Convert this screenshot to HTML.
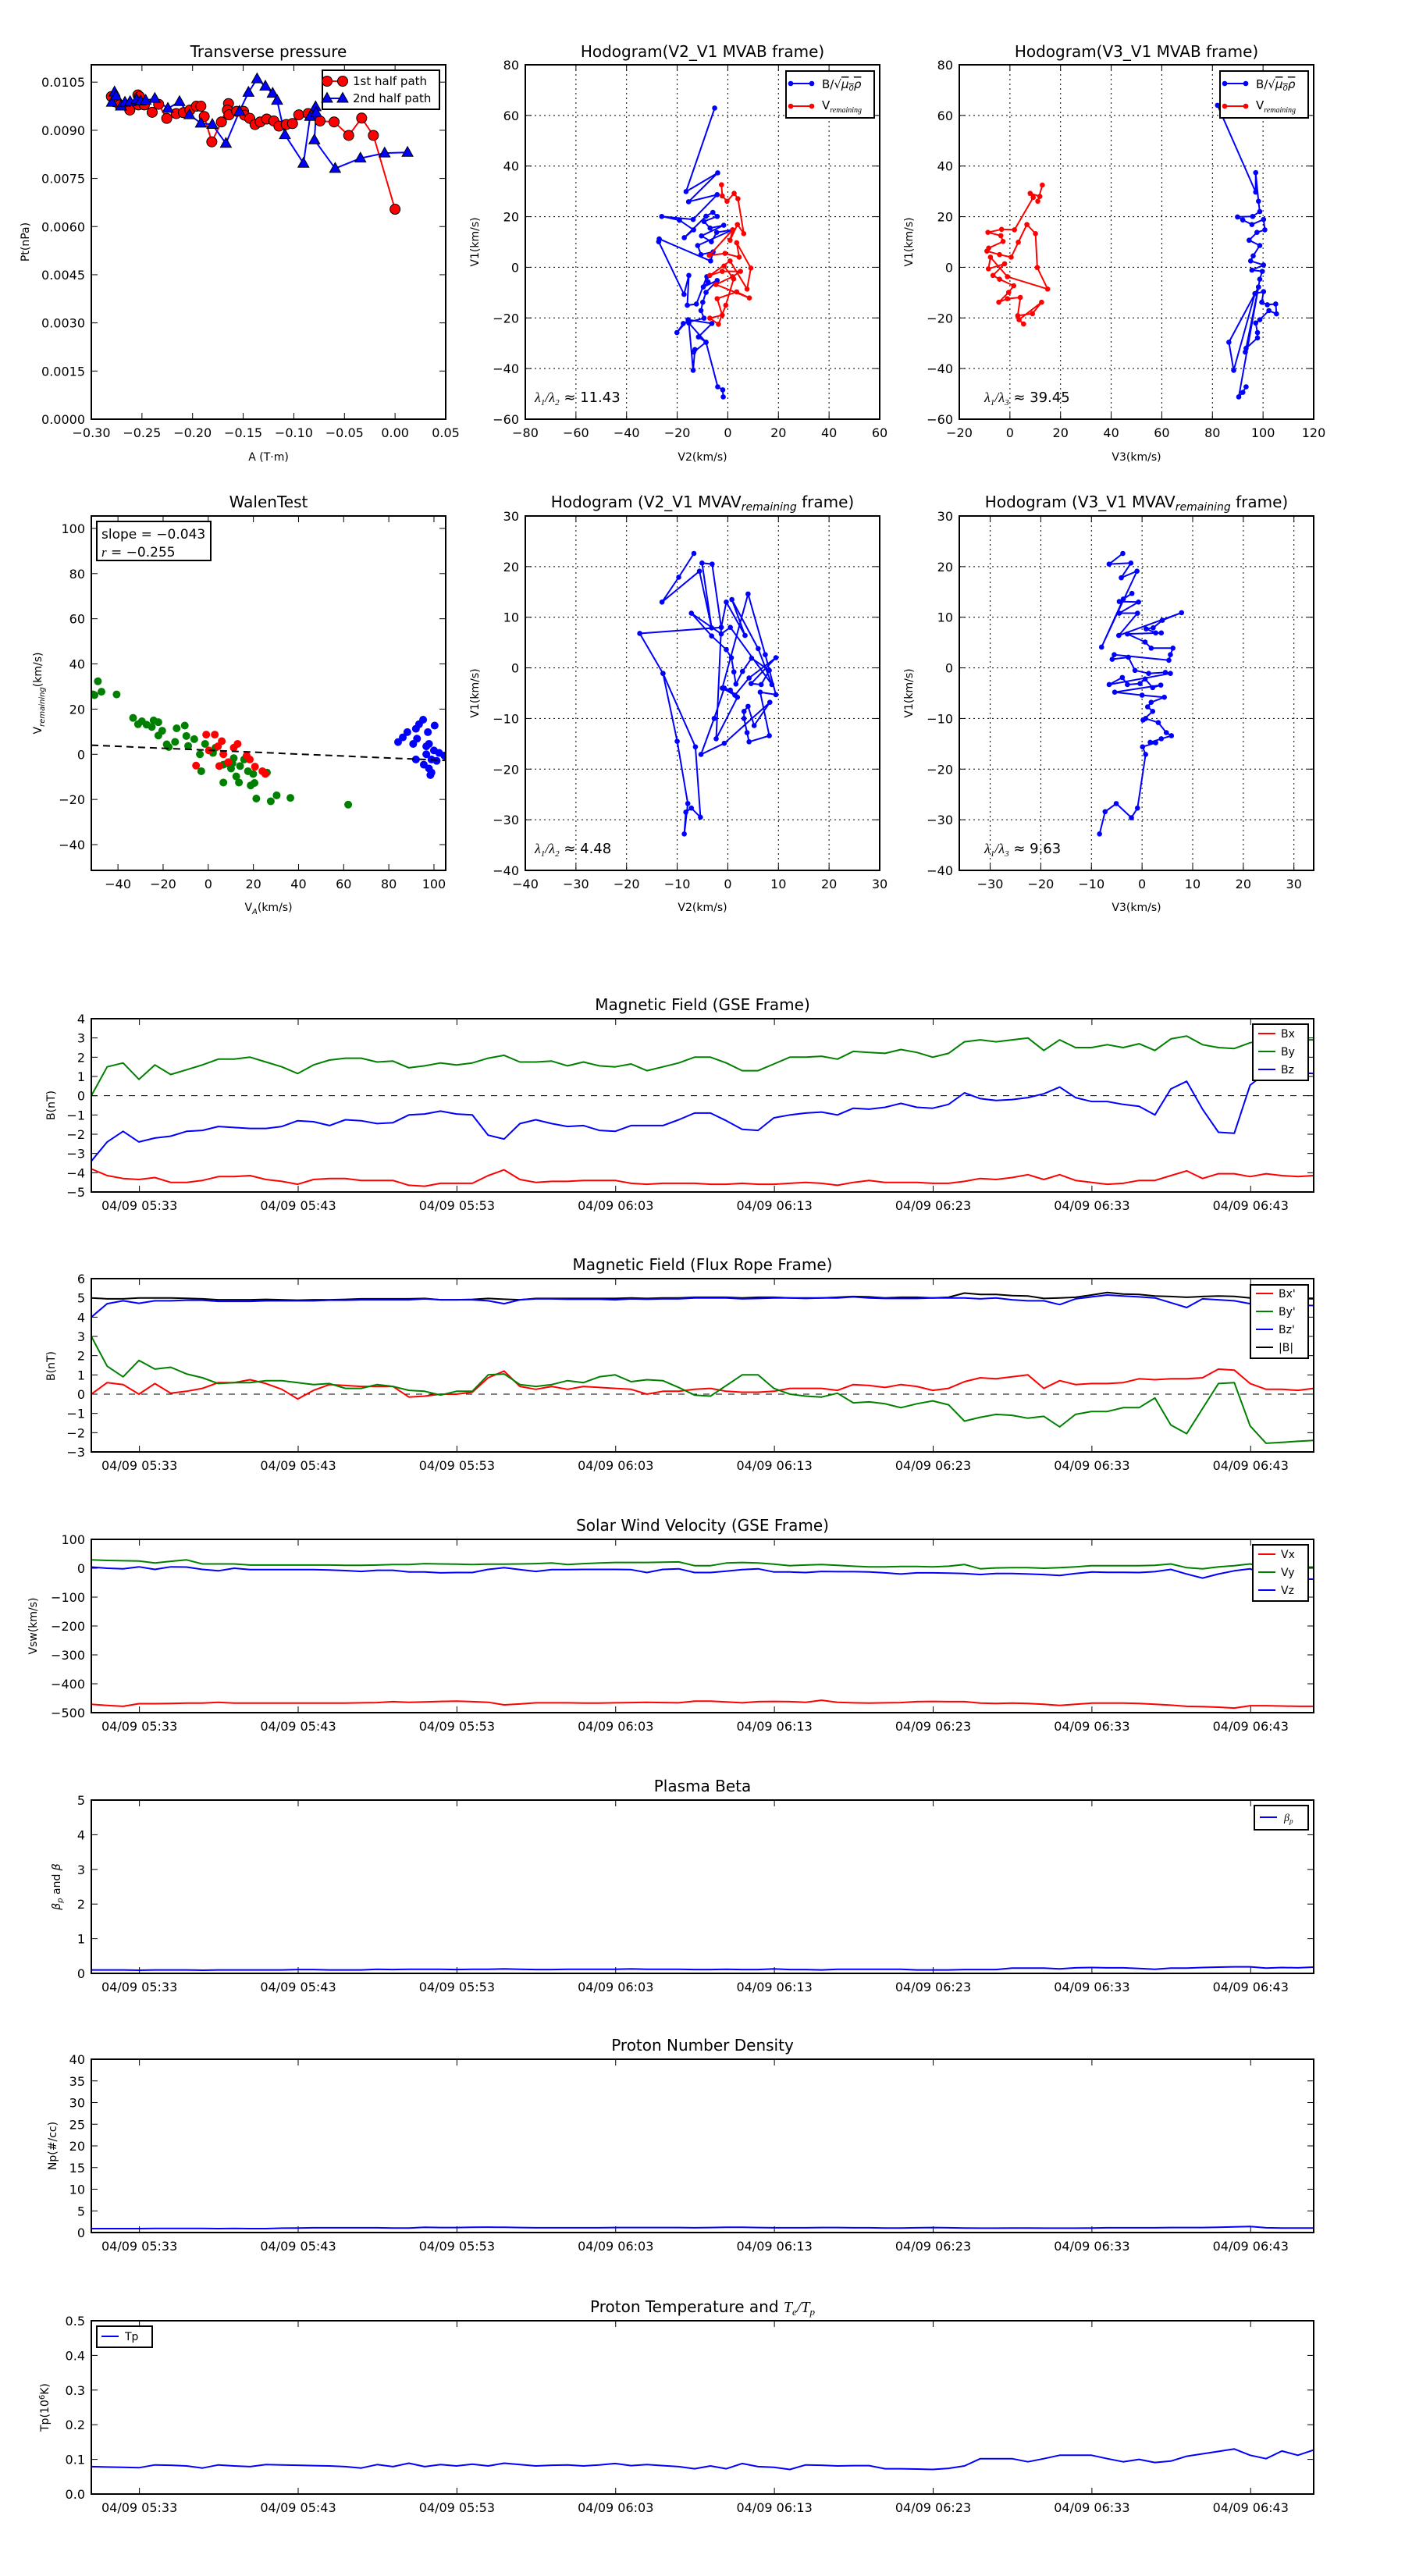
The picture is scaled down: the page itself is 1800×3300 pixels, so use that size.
<!DOCTYPE html>
<html><head><meta charset="utf-8"><title>Flux rope analysis</title>
<style>
html,body{margin:0;padding:0;background:#fff;}
svg{display:block;font-family:"DejaVu Sans","Liberation Sans",sans-serif;}
</style></head>
<body>
<svg id="fig" width="1800" height="3300" viewBox="0 0 1800 3300" xmlns="http://www.w3.org/2000/svg">
<rect x="0" y="0" width="1800" height="3300" fill="#fff"/>
<defs id="defs"></defs>
<g font-size="20" text-anchor="middle" fill="#000">
<text x="344" y="73">Transverse pressure</text>
<text x="900" y="73">Hodogram(V2_V1 MVAB frame)</text>
<text x="1456" y="73">Hodogram(V3_V1 MVAB frame)</text>
<text x="344" y="650">WalenTest</text>
<text x="900" y="650">Hodogram (V2_V1 MVAV<tspan font-style="italic" font-size="14" dy="4">remaining</tspan><tspan dy="-4"> frame)</tspan></text>
<text x="1456" y="650">Hodogram (V3_V1 MVAV<tspan font-style="italic" font-size="14" dy="4">remaining</tspan><tspan dy="-4"> frame)</tspan></text>
<text x="900" y="1294">Magnetic Field (GSE Frame)</text>
<text x="900" y="1627">Magnetic Field (Flux Rope Frame)</text>
<text x="900" y="1961">Solar Wind Velocity (GSE Frame)</text>
<text x="900" y="2295">Plasma Beta</text>
<text x="900" y="2627">Proton Number Density</text>
<text x="900" y="2962">Proton Temperature and <tspan font-style="italic" font-family="Liberation Serif, serif">T<tspan font-size="13" dy="4">e</tspan><tspan dy="-4">/T</tspan><tspan font-size="13" dy="4">p</tspan></tspan></text>
</g>
<g font-size="14" text-anchor="middle" fill="#000">
<text x="344" y="590">A (T·m)</text>
<text x="900" y="590">V2(km/s)</text>
<text x="1456" y="590">V3(km/s)</text>
<text x="344" y="1167">V<tspan font-size="10" dy="4" font-style="italic">A</tspan><tspan dy="-4">(km/s)</tspan></text>
<text x="900" y="1167">V2(km/s)</text>
<text x="1456" y="1167">V3(km/s)</text>
<text transform="translate(37,310) rotate(-90)">Pt(nPa)</text>
<text transform="translate(613,310) rotate(-90)">V1(km/s)</text>
<text transform="translate(1169,310) rotate(-90)">V1(km/s)</text>
<text transform="translate(53,888) rotate(-90)">V<tspan font-size="10" dy="4" font-style="italic">remaining</tspan><tspan dy="-4">(km/s)</tspan></text>
<text transform="translate(613,888) rotate(-90)">V1(km/s)</text>
<text transform="translate(1169,888) rotate(-90)">V1(km/s)</text>
<text transform="translate(70,1416) rotate(-90)">B(nT)</text>
<text transform="translate(70,1750) rotate(-90)">B(nT)</text>
<text transform="translate(47,2083) rotate(-90)">Vsw(km/s)</text>
<text transform="translate(77,2417) rotate(-90)"><tspan font-style="italic">β</tspan><tspan font-size="10" font-style="italic" dy="3">p</tspan><tspan dy="-3"> and </tspan><tspan font-style="italic">β</tspan></text>
<text transform="translate(72,2749) rotate(-90)">Np(#/cc)</text>
<text transform="translate(62,3084) rotate(-90)">Tp(10<tspan font-size="10" dy="-5">6</tspan><tspan dy="5">K)</tspan></text>
</g>
</svg>
<script>
// ---------- DATA ----------
const ptA1 = [-0.2802,-0.2771,-0.272,-0.262,-0.254,-0.2524,-0.2535,-0.2476,-0.2399,-0.2335,-0.2255,-0.2162,-0.209,-0.2026,-0.1962,-0.1918,-0.1885,-0.181,-0.1715,-0.1645,-0.1656,-0.164,-0.1564,-0.1497,-0.1486,-0.1435,-0.1383,-0.1332,-0.1268,-0.1198,-0.1147,-0.1075,-0.1013,-0.0951,-0.0859,-0.0741,-0.0602,-0.0458,-0.033,-0.0214,0.0];
const ptP1 = [0.01005,0.00989,0.00979,0.00963,0.0101,0.01005,0.00979,0.00979,0.00956,0.00981,0.00937,0.00952,0.00955,0.00963,0.00975,0.00975,0.00943,0.00864,0.00926,0.00983,0.00963,0.00948,0.00959,0.00959,0.00947,0.00937,0.00918,0.00926,0.00935,0.00929,0.00913,0.00918,0.00921,0.00948,0.00952,0.00929,0.00926,0.00884,0.00938,0.00884,0.00654];
const ptA2 = [-0.2797,-0.2771,-0.2756,-0.2707,-0.2668,-0.2617,-0.2553,-0.2514,-0.2463,-0.2373,-0.2244,-0.2129,-0.2031,-0.1918,-0.1805,-0.1671,-0.1537,-0.1448,-0.1363,-0.1281,-0.1209,-0.1165,-0.1088,-0.0905,-0.0839,-0.0785,-0.078,-0.0797,-0.0592,-0.0342,-0.0103,0.0123];
const ptP2 = [0.00987,0.01019,0.01007,0.00975,0.00987,0.00989,0.00995,0.00991,0.00993,0.00999,0.00968,0.00989,0.00948,0.00922,0.00918,0.00859,0.00959,0.01018,0.0106,0.01037,0.01015,0.00993,0.00886,0.00797,0.00943,0.00973,0.00955,0.0087,0.00781,0.00813,0.00829,0.00831];

const h1bV2 = [-5.2,-16.5,-4,-15.5,-4.2,-13.7,-26.1,-19.1,-13.5,-17.2,-8.6,-5.9,-4.2,-9.4,-7,-1.6,-10.4,-6.5,-4.4,1.9,-11.9,-10.6,-5.8,-6.8,-27.1,-27.3,-17.3,-15.4,-16,-12.4,-8.3,-7.8,-9.7,-4.2,-8.6,-9.9,-10.6,-9.4,-17.6,-20.1,-15.7,-6.3,-11.6,-8.6,-13.5,-13,-13.7,-15.4,-8.6,-4,-2,-1.8];
const h1bV1 = [62.9,29.9,37.3,25.9,28.7,18.9,20.1,18.6,14.8,11.7,20.2,21.7,20.1,18.1,15.5,16.6,12.4,10.1,13.8,14.8,8.6,5,6.1,2.5,11.2,10.1,-10.7,-3.2,-15,-14.5,-3.7,-5.8,-7.8,-5.2,-9.9,-13.8,-17.1,-20.1,-22.2,-25.8,-20.7,-22.2,-27.5,-29.6,-33.5,-32.5,-40.7,-22,-29.6,-47.2,-48.4,-51.2];
const h1rV2 = [-2.5,-2.2,-0.3,2.5,4,6.3,3.8,0.9,1.9,-7.3,-1.1,4.5,3.5,9.1,7.6,0.9,-7.1,-2.2,5,1.9,-4.7,8.5,3.5,-4.2,-2.2,-7.1,-3.7,-0.8,2.3,-1.5];
const h1rV1 = [32.6,28.2,26.1,29.2,27.1,13.3,16.9,10.7,14.8,4.7,5.5,4,9.7,-0.3,-8.6,2.5,-3.2,-1.6,-1.6,-3.7,-6.8,-12.1,-9.7,-12.4,-18.9,-20.1,-22.5,-15,-4.6,0.5];
const h2rV3 = [12.8,11,11.8,8,9.2,1.8,-3.3,-8.7,-3.6,-2.7,-8.4,-9.1,-4.1,0.5,3.3,6.7,10.1,10.8,14.9,-1,-7.7,-8.5,-2.1,-6.7,-4.1,1.5,-0.5,-4.4,-1,4.1,3.1,8.9,12.5,3.6,5.4];
const h2rV1 = [32.5,26.1,28,29.2,27.6,14.8,15,13.8,12.5,10.2,7.6,6.4,5,4,9.9,16.9,13.3,-0.1,-8.6,-3.7,4,-0.6,1.4,-3.2,-4.7,-7.3,-9.9,-13.8,-12.4,-11.9,-19.1,-18.3,-13.8,-20.7,-22.4];
const h2bV3 = [82,97.1,97.1,98.2,98.7,95.9,89.9,92,95.6,100.2,100.7,97.6,94.5,98.7,96.1,95.1,100.2,95.6,99.7,98.7,98.2,96.8,86.5,88.4,96.8,100.2,99.5,101.7,105,105.3,102.3,98.7,97.1,97.8,97.8,93.3,93,98.2,90.4,92,93.3];
const h2bV1 = [64,29.7,37.4,26.1,22,20.1,19.9,18.7,16.9,18.9,14.8,13.8,10.7,8.6,4.5,2.5,0.9,-1.1,-1.6,-4.7,-7.8,-10.4,-29.6,-40.7,-10.4,-9.6,-13.8,-14.8,-14.5,-18.4,-17.1,-20.7,-22,-25.8,-27.9,-32,-33.5,-7.8,-51.2,-49.4,-47.2];

const walenGreenVA = [-51,-50.4,-48.9,-47.3,-40.6,-33.3,-31.1,-29.4,-27.3,-25,-24.2,-22.1,-20.4,-22.1,-18.4,-17.5,-14,-10.4,-14.7,-9.7,-6.2,-8.9,-3.7,-3.1,-1.4,2.1,3.2,6.7,6.7,10.1,11.3,12.4,13.6,15.9,14.1,17.6,18.8,20.5,19.9,21.3,26,27.7,30.3,36.4,62,10.7,8.4];
const walenGreenVR = [26.5,26.2,32.3,27.7,26.5,16.1,13.3,14.6,13.1,12.1,15,14.2,10.4,8.3,4.4,3.2,11.5,12.7,5.5,8.1,6.7,3.7,0,-7.5,4.6,0.6,2.9,-4.6,-12.5,-6.3,-1.7,-9.8,-12.5,-2.3,-5.2,-7.5,-13.8,-12.7,-8.7,-19.6,-8.1,-20.8,-18.2,-19.3,-22.3,-4,-4];
const walenRedVA = [-5.4,-0.9,2.9,6,4.3,11.3,13,17,18.4,4.9,8.9,20.7,24,25.3,0.3,6.7];
const walenRedVR = [-5,8.7,8.7,5.8,3.5,2.9,4.6,-0.6,-2.3,-5.2,-3.5,-5.5,-7.5,-8.7,1.7,0];
const walenBlueVA = [84.1,86.2,88.2,90.8,92.5,92,93.4,95.2,97.3,100.3,96.6,97.8,100,102.3,104.6,92,95.5,97.8,98.9,98.4,96.6,98.9,101.2];
const walenBlueVR = [5.4,7.5,9.8,4.6,6.9,11.3,13.3,15.3,9.8,12.7,3.5,4.6,1.7,0.6,-0.6,-2.3,-4.6,-6.3,-8.1,-9.2,0,-2.3,-2.9];
const walenFit = [-0.043, 1.8];

const h3V2 = [-6.7,-9.7,-13,-5.6,-3.2,-5.1,-3.1,-1.3,-0.3,3.4,0.8,6,8.7,0.5,-1.3,-7.2,-3.2,-0.3,0.7,1.2,1.6,2.9,4.7,8.2,6.6,4.6,9.5,4.2,1.4,-1.1,4,7.4,9.5,6.4,8.2,4.2,3.8,3.2,3.2,4,5.2,8.3,-0.7,-5.3,-2.7,-0.7,0.5,1.9,-2.3,-1.3,-17.4,-12.8,-10,-7.9,-8.6,-8.3,-7.2,-5.4,-6.4,-12.8];
const h3V1 = [22.6,17.9,13,19.1,7.9,20.7,20.5,8,13,6.4,13.5,3.8,-3.3,8,6.7,10.8,6.3,3.6,2,-0.8,-3.2,-0.7,1.9,-0.5,-3.3,-3.1,2,-2,-5.4,-4,14.6,2.6,-5.3,-4.8,-13.4,-14.6,-12.8,-10,-8.6,-7.6,-11.4,-6.8,-14.9,-17.1,-10,-4,-4.4,-5.8,-14,8,6.8,-1.1,-14.5,-26.8,-32.8,-28.5,-27.7,-29.5,-15.6,-1.1];
const h4V3 = [-3.8,-6.5,-2.2,-4.1,-1,-8,-3.7,-2,-4.5,-0.7,-4.5,-0.9,-4.6,7.8,4,2.2,0.8,2.7,3.8,-2.9,0.6,1.8,6.1,5.6,5.3,-5.5,-5.9,-2.7,-1.4,1.3,4.6,5.6,-6.5,-3.9,-2.9,-0.4,0.6,2.1,3.7,-5.4,0,4.4,1.8,1.1,2.1,0.2,0.7,3.2,4.8,5.8,3.8,1.6,2.7,0.1,0.7,-0.9,-2.1,-5.1,-7.3,-8.4];
const h4V1 = [22.6,20.5,20.7,17.8,19.1,4.1,13.6,14.7,13.1,13,10.8,10.8,6.4,10.9,9.4,7.9,7.7,6.9,6.9,6.7,5.1,3.9,3.9,2.6,1.5,2.6,1.7,2.1,-0.5,-1.1,-0.9,-1.1,-3.3,-1.9,-3.3,-3.1,-2.2,-3.9,-3.4,-4.8,-5.4,-5.8,-6.8,-7.7,-8.6,-10.3,-10,-10.8,-12.8,-13.4,-14,-14.7,-14.8,-15.6,-17.1,-27.7,-29.6,-26.8,-28.4,-32.8];

const gseBx = [-3.8,-4.15,-4.3,-4.35,-4.25,-4.5,-4.5,-4.4,-4.2,-4.2,-4.15,-4.35,-4.45,-4.6,-4.35,-4.3,-4.3,-4.4,-4.4,-4.4,-4.65,-4.7,-4.55,-4.55,-4.55,-4.15,-3.85,-4.35,-4.5,-4.45,-4.45,-4.4,-4.4,-4.4,-4.55,-4.6,-4.55,-4.55,-4.55,-4.6,-4.6,-4.55,-4.6,-4.6,-4.55,-4.5,-4.55,-4.65,-4.5,-4.4,-4.5,-4.5,-4.5,-4.55,-4.55,-4.45,-4.3,-4.35,-4.25,-4.1,-4.35,-4.1,-4.4,-4.5,-4.6,-4.55,-4.4,-4.4,-4.15,-3.9,-4.3,-4.05,-4.05,-4.2,-4.05,-4.15,-4.2,-4.15];
const gseBy = [0,1.5,1.7,0.85,1.6,1.1,1.35,1.6,1.9,1.9,2.0,1.75,1.5,1.15,1.6,1.85,1.95,1.95,1.75,1.8,1.45,1.55,1.7,1.6,1.7,1.95,2.1,1.75,1.75,1.8,1.55,1.75,1.55,1.5,1.65,1.3,1.5,1.7,2.0,2.0,1.7,1.3,1.3,1.65,2.0,2.0,2.05,1.9,2.3,2.25,2.2,2.4,2.25,2.0,2.2,2.8,2.9,2.8,2.9,3.0,2.35,2.9,2.5,2.5,2.65,2.5,2.7,2.35,2.95,3.1,2.65,2.5,2.45,2.75,2.9,2.95,2.9,2.9];
const gseBz = [-3.4,-2.4,-1.85,-2.4,-2.2,-2.1,-1.85,-1.8,-1.6,-1.65,-1.7,-1.7,-1.6,-1.3,-1.35,-1.55,-1.25,-1.3,-1.45,-1.4,-1.0,-0.95,-0.8,-0.95,-1.0,-2.05,-2.25,-1.45,-1.25,-1.45,-1.6,-1.55,-1.8,-1.85,-1.55,-1.55,-1.55,-1.25,-0.9,-0.9,-1.3,-1.75,-1.8,-1.15,-1.0,-0.9,-0.85,-1.0,-0.65,-0.7,-0.6,-0.4,-0.6,-0.65,-0.45,0.15,-0.15,-0.25,-0.2,-0.1,0.1,0.45,-0.1,-0.3,-0.3,-0.45,-0.55,-1.0,0.35,0.75,-0.7,-1.9,-1.95,0.55,1.2,1.2,1.2,1.15];

const frBx = [0,0.6,0.5,0,0.55,0.05,0.15,0.3,0.6,0.6,0.75,0.55,0.25,-0.25,0.2,0.5,0.45,0.4,0.4,0.4,-0.15,-0.1,0,0,0.1,0.85,1.2,0.4,0.25,0.4,0.25,0.4,0.35,0.3,0.25,0,0.15,0.15,0.25,0.3,0.15,0.1,0.1,0.15,0.3,0.3,0.3,0.2,0.5,0.45,0.35,0.5,0.4,0.2,0.3,0.65,0.85,0.8,0.9,1.0,0.3,0.7,0.5,0.55,0.55,0.6,0.8,0.75,0.8,0.8,0.85,1.3,1.25,0.55,0.25,0.25,0.2,0.3];
const frBy = [3.0,1.45,0.9,1.75,1.3,1.4,1.05,0.85,0.55,0.6,0.6,0.7,0.7,0.6,0.5,0.55,0.3,0.3,0.5,0.4,0.2,0.15,-0.05,0.15,0.15,1.0,1.05,0.5,0.4,0.5,0.7,0.6,0.9,1.0,0.65,0.75,0.7,0.35,-0.05,-0.1,0.45,1.0,1.0,0.3,0,-0.1,-0.15,0.05,-0.45,-0.4,-0.5,-0.7,-0.5,-0.35,-0.55,-1.4,-1.2,-1.05,-1.1,-1.25,-1.15,-1.7,-1.05,-0.9,-0.9,-0.7,-0.7,-0.2,-1.6,-2.05,-0.75,0.55,0.6,-1.65,-2.55,-2.5,-2.45,-2.4];
const frBz = [4.0,4.7,4.85,4.72,4.85,4.85,4.88,4.88,4.82,4.82,4.82,4.85,4.85,4.85,4.85,4.88,4.88,4.9,4.9,4.9,4.9,4.95,4.9,4.9,4.9,4.85,4.7,4.9,4.95,4.95,4.93,4.93,4.93,4.9,4.95,4.93,4.95,4.95,5.0,5.0,5.0,4.95,4.97,5.0,5.0,4.97,5.0,5.0,5.05,5.0,4.97,4.97,4.97,5.0,5.0,5.0,4.95,5.0,4.9,4.85,4.85,4.65,4.95,5.05,5.15,5.1,5.05,5.0,4.75,4.5,4.95,4.9,4.85,4.7,4.65,4.6,4.62,4.6];
const frBt = [5.0,4.95,4.95,5.0,5.0,5.0,4.98,4.95,4.9,4.9,4.9,4.92,4.9,4.88,4.9,4.9,4.92,4.95,4.95,4.95,4.95,4.97,4.9,4.9,4.92,4.97,4.93,4.9,4.97,4.97,4.97,4.97,4.97,4.97,5.0,4.97,5.0,5.0,5.03,5.03,5.03,5.0,5.03,5.03,5.0,5.0,5.0,5.03,5.07,5.05,5.0,5.03,5.03,5.0,5.03,5.25,5.18,5.18,5.12,5.1,4.97,5.0,5.03,5.15,5.28,5.2,5.18,5.1,5.07,5.03,5.07,5.1,5.08,5.0,5.0,5.0,4.97,4.95];

const vswVx = [-471,-475,-478,-469,-469,-468,-467,-467,-464,-467,-467,-467,-467,-467,-467,-467,-467,-466,-465,-462,-464,-463,-461,-460,-462,-464,-473,-470,-466,-466,-466,-467,-467,-466,-465,-464,-465,-466,-460,-460,-463,-466,-462,-461,-462,-464,-457,-464,-466,-467,-466,-465,-462,-461,-462,-462,-467,-468,-467,-468,-471,-475,-471,-467,-467,-467,-468,-471,-474,-478,-479,-481,-484,-476,-476,-477,-478,-478];
const vswVy = [29,27,26,25,18,24,29,15,15,15,11,11,11,11,11,11,10,10,11,13,13,16,15,14,13,14,14,15,16,18,13,16,18,20,20,20,21,22,9,9,18,20,18,14,9,11,13,10,7,5,5,6,6,5,7,13,-2,1,2,2,0,2,5,9,9,9,9,10,15,2,-2,5,9,15,2,4,4,4];
const vswVz = [4,0,-2,5,-4,5,4,-4,-9,0,-5,-5,-5,-5,-5,-6,-8,-11,-7,-7,-13,-13,-16,-15,-15,-4,2,-5,-11,-5,-5,-4,-4,-4,-5,-15,-4,-2,-15,-15,-10,-5,-2,-13,-13,-15,-11,-12,-12,-13,-16,-20,-16,-16,-17,-18,-22,-18,-18,-20,-22,-25,-18,-13,-14,-14,-15,-12,-4,-20,-34,-20,-9,-2,-25,-35,-36,-38];

const betaP = [0.1,0.1,0.1,0.09,0.1,0.1,0.1,0.09,0.1,0.1,0.1,0.1,0.1,0.11,0.11,0.1,0.1,0.1,0.12,0.11,0.12,0.12,0.12,0.11,0.12,0.12,0.13,0.12,0.11,0.11,0.12,0.12,0.12,0.12,0.13,0.12,0.12,0.12,0.11,0.11,0.12,0.11,0.11,0.13,0.11,0.11,0.1,0.12,0.12,0.12,0.12,0.12,0.1,0.1,0.1,0.11,0.11,0.11,0.15,0.15,0.15,0.13,0.16,0.17,0.16,0.16,0.14,0.12,0.15,0.15,0.17,0.18,0.19,0.19,0.15,0.17,0.16,0.18];
const densNp = [0.9,0.9,0.9,0.9,0.95,0.95,0.95,0.95,0.9,0.95,0.9,0.9,1.0,1.05,1.1,1.1,1.1,1.1,1.1,1.05,1.05,1.2,1.15,1.15,1.2,1.25,1.2,1.15,1.1,1.1,1.1,1.1,1.1,1.15,1.15,1.15,1.15,1.15,1.1,1.15,1.2,1.2,1.15,1.1,1.1,1.1,1.15,1.15,1.1,1.1,1.05,1.05,1.1,1.15,1.1,1.05,1.0,1.0,1.05,1.05,1.0,1.0,1.0,1.05,1.1,1.1,1.1,1.1,1.15,1.15,1.15,1.2,1.3,1.4,1.1,1.05,1.05,1.05];
const tempTp = [0.079,0.078,0.077,0.076,0.084,0.083,0.081,0.075,0.084,0.081,0.079,0.085,0.084,0.083,0.082,0.081,0.079,0.075,0.085,0.079,0.089,0.079,0.085,0.081,0.086,0.081,0.089,0.085,0.081,0.083,0.084,0.081,0.084,0.088,0.082,0.085,0.082,0.079,0.073,0.081,0.073,0.088,0.079,0.077,0.071,0.084,0.083,0.081,0.082,0.082,0.073,0.073,0.072,0.071,0.074,0.081,0.102,0.102,0.102,0.093,0.102,0.112,0.112,0.112,0.102,0.093,0.1,0.091,0.095,0.109,0.116,0.123,0.13,0.112,0.102,0.124,0.112,0.127];

const timeTickMinutes = [3,13,23,33,43,53,63,73];
const timeTickLabels = ['04/09 05:33','04/09 05:43','04/09 05:53','04/09 06:03','04/09 06:13','04/09 06:23','04/09 06:33','04/09 06:43'];
const ptXTicks = [-0.30,-0.25,-0.20,-0.15,-0.10,-0.05,0.00,0.05];
const ptXLabels = ['\u22120.30','\u22120.25','\u22120.20','\u22120.15','\u22120.10','\u22120.05','0.00','0.05'];
const ptYTicks = [0,0.0015,0.003,0.0045,0.006,0.0075,0.009,0.0105];
const ptYLabels = ['0.0000','0.0015','0.0030','0.0045','0.0060','0.0075','0.0090','0.0105'];

// ---------- HELPERS ----------
const NS='http://www.w3.org/2000/svg';
const svg=document.getElementById('fig');
const defs=document.getElementById('defs');
function mk(tag,attrs,parent){const e=document.createElementNS(NS,tag);for(const k in attrs)e.setAttribute(k,attrs[k]);(parent||svg).appendChild(e);return e;}
function lab(v){return String(v).replace('-','\u2212');}
function sx(p,v){return p.x+(v-p.xlim[0])/(p.xlim[1]-p.xlim[0])*p.w;}
function sy(p,v){return p.y+p.h-(v-p.ylim[0])/(p.ylim[1]-p.ylim[0])*p.h;}
function range(a,b,s){const r=[];for(let v=a;v<=b+1e-9;v+=s)r.push(Math.round(v*1e6)/1e6);return r;}

function axes(p,nm,xt,xl,yt,yl,grid){
  const g=mk('g',{});
  
  
  const cp=mk('clipPath',{id:nm+'-clip'},defs);
  mk('rect',{x:p.x,y:p.y,width:p.w,height:p.h},cp);
  xt.forEach((v,i)=>{
    const X=sx(p,v);
    if(grid){
      const gl=mk('line',{x1:X,x2:X,y1:p.y,y2:p.y+p.h,stroke:'#000','stroke-width':1,'stroke-dasharray':'2,4'},g);
      
      
    }
    const t1=mk('line',{x1:X,x2:X,y1:p.y+p.h,y2:p.y+p.h-8,stroke:'#000','stroke-width':1},g);
    
    
    const t2=mk('line',{x1:X,x2:X,y1:p.y,y2:p.y+8,stroke:'#000','stroke-width':1},g);
    
    
    const tx=mk('text',{x:X,y:p.y+p.h+23,'text-anchor':'middle','font-size':16},g);
    tx.textContent=xl[i];
    
    
  });
  yt.forEach((v,i)=>{
    const Y=sy(p,v);
    if(grid){
      const gl=mk('line',{x1:p.x,x2:p.x+p.w,y1:Y,y2:Y,stroke:'#000','stroke-width':1,'stroke-dasharray':'2,4'},g);
      
      
    }
    const t1=mk('line',{x1:p.x,x2:p.x+8,y1:Y,y2:Y,stroke:'#000','stroke-width':1},g);
    
    
    const t2=mk('line',{x1:p.x+p.w,x2:p.x+p.w-8,y1:Y,y2:Y,stroke:'#000','stroke-width':1},g);
    
    
    const tx=mk('text',{x:p.x-8,y:Y+6,'text-anchor':'end','font-size':16},g);
    tx.textContent=yl[i];
    
    
  });
}
function frame(p,nm){
  const r=mk('rect',{x:p.x,y:p.y,width:p.w,height:p.h,fill:'none',stroke:'#000','stroke-width':2});
  
  
}
function path(p,nm,xs,ys,color,lw){
  const pts=xs.map((x,i)=>sx(p,x).toFixed(1)+','+sy(p,ys[i]).toFixed(1)).join(' ');
  const pl=mk('polyline',{points:pts,fill:'none',stroke:color,'stroke-width':lw,'stroke-linejoin':'round','clip-path':'url(#'+nm.split('|')[0]+'-clip)'});
  
  
}
function dots(p,nm,xs,ys,color,r,edge){
  const g=mk('g',{'clip-path':'url(#'+nm.split('|')[0]+'-clip)'});
  
  
  xs.forEach((x,i)=>{
    const c=mk('circle',{cx:sx(p,x),cy:sy(p,ys[i]),r:r,fill:color,stroke:edge||'none','stroke-width':1},g);
    
    
  });
}
function tris(p,nm,xs,ys,color){
  const g=mk('g',{});
  
  
  xs.forEach((x,i)=>{
    const X=sx(p,x),Y=sy(p,ys[i]);
    const t=mk('polygon',{points:`${X},${Y-7.5} ${X-7},${Y+5} ${X+7},${Y+5}`,fill:color,stroke:'#000','stroke-width':1},g);
    
    
  });
}
function legBox(x,y,w,h,nm){
  const r=mk('rect',{x:x,y:y,width:w,height:h,fill:'#fff',stroke:'#000','stroke-width':2});
  
  
}
function legLine(x1,x2,y,color,nm){
  const l=mk('line',{x1:x1,x2:x2,y1:y,y2:y,stroke:color,'stroke-width':2});
  
  
}
function legText(x,y,html,size,nm){
  const t=mk('text',{x:x,y:y,'font-size':size});
  t.innerHTML=html;
  
  
}

// ---------- TOP PANELS ----------
const PT={x:117,y:83,w:454,h:454,xlim:[-0.30,0.05],ylim:[0,0.01104]};
axes(PT,'pt',ptXTicks,ptXLabels,ptYTicks,ptYLabels,false);
path(PT,'pt|first-half-line',ptA1,ptP1,'#f00',2);
path(PT,'pt|second-half-line',ptA2,ptP2,'#00f',2);
dots(PT,'pt|first-half-marker',ptA1,ptP1,'#f00',6.5,'#000');
tris(PT,'second-half-marker',ptA2,ptP2,'#00f');
frame(PT,'pt');
legBox(413,90,150,50,'pt-legend');
legLine(419,439,104,'#f00','legend-first-half-line');
{const c1=mk('circle',{cx:419,cy:104,r:6.5,fill:'#f00',stroke:'#000'});


const c2=mk('circle',{cx:439,cy:104,r:6.5,fill:'#f00',stroke:'#000'});

}
legText(452,109,'1st half path',15,'legend-first-half-label');
legLine(419,439,126,'#00f','legend-second-half-line');
{const t1=mk('polygon',{points:'419,118.5 412,131 426,131',fill:'#00f',stroke:'#000'});


const t2=mk('polygon',{points:'439,118.5 432,131 446,131',fill:'#00f',stroke:'#000'});

}
legText(452,131,'2nd half path',15,'legend-second-half-label');

function hodoLegend(x,nmp){
  legBox(x,91,113,60,nmp+'-legend');
  legLine(x+6,x+33,107,'#00f',nmp+'-legend-b-line');
  dots({x:0,y:0,w:1,h:1,xlim:[0,1],ylim:[0,1]},'none|'+nmp+'-legend-b-dot',[x+6,x+33],[-106,-106],'#00f',3.3);
  legText(x+46,113,'B/√<tspan font-style="italic" text-decoration="overline">μ<tspan font-size="10" dy="3">0</tspan><tspan dy="-3">ρ</tspan></tspan>',15,nmp+'-legend-b-label');
  legLine(x+6,x+33,136,'#f00',nmp+'-legend-v-line');
  dots({x:0,y:0,w:1,h:1,xlim:[0,1],ylim:[0,1]},'none|'+nmp+'-legend-v-dot',[x+6,x+33],[-135,-135],'#f00',3.3);
  legText(x+46,140,'V<tspan font-size="10" font-style="italic" font-family="Liberation Serif, serif" dy="4">remaining</tspan>',15,nmp+'-legend-v-label');
}
const H1={x:673,y:83,w:454,h:454,xlim:[-80,60],ylim:[-60,80]};
axes(H1,'h1',range(-80,60,20),range(-80,60,20).map(lab),range(-60,80,20),range(-60,80,20).map(lab),true);
path(H1,'h1|b-alfven-path',h1bV2,h1bV1,'#00f',2);
dots(H1,'h1|b-alfven-point',h1bV2,h1bV1,'#00f',3.3);
path(H1,'h1|v-remaining-path',h1rV2,h1rV1,'#f00',2);
dots(H1,'h1|v-remaining-point',h1rV2,h1rV1,'#f00',3.3);
frame(H1,'h1');
hodoLegend(1007,'h1');
legText(685,515,'<tspan font-style="italic" font-family="Liberation Serif, serif">λ<tspan font-size="11" dy="4">1</tspan><tspan dy="-4">/λ</tspan><tspan font-size="11" dy="4">2</tspan></tspan><tspan dy="-4"> ≈ 11.43</tspan>',18,'h1-eigen-ratio');

const H2={x:1229,y:83,w:454,h:454,xlim:[-20,120],ylim:[-60,80]};
axes(H2,'h2',range(-20,120,20),range(-20,120,20).map(lab),range(-60,80,20),range(-60,80,20).map(lab),true);
path(H2,'h2|b-alfven-path',h2bV3,h2bV1,'#00f',2);
dots(H2,'h2|b-alfven-point',h2bV3,h2bV1,'#00f',3.3);
path(H2,'h2|v-remaining-path',h2rV3,h2rV1,'#f00',2);
dots(H2,'h2|v-remaining-point',h2rV3,h2rV1,'#f00',3.3);
frame(H2,'h2');
hodoLegend(1563,'h2');
legText(1261,515,'<tspan font-style="italic" font-family="Liberation Serif, serif">λ<tspan font-size="11" dy="4">1</tspan><tspan dy="-4">/λ</tspan><tspan font-size="11" dy="4">3</tspan></tspan><tspan dy="-4"> ≈ 39.45</tspan>',18,'h2-eigen-ratio');

const WT={x:117,y:661,w:454,h:454,xlim:[-51.8,105.2],ylim:[-51.4,105.5]};
axes(WT,'wt',range(-40,100,20),range(-40,100,20).map(lab),range(-40,100,20),range(-40,100,20).map(lab),false);
dots(WT,'wt|walen-green-point',walenGreenVA,walenGreenVR,'#008000',5);
dots(WT,'wt|walen-red-point',walenRedVA,walenRedVR,'#f00',5);
dots(WT,'wt|walen-blue-point',walenBlueVA,walenBlueVR,'#00f',5);
{const fx=[WT.xlim[0],WT.xlim[1]];
const fy=fx.map(v=>walenFit[0]*v+walenFit[1]);
const fl=mk('line',{x1:sx(WT,fx[0]),y1:sy(WT,fy[0]),x2:sx(WT,fx[1]),y2:sy(WT,fy[1]),stroke:'#000','stroke-width':2,'stroke-dasharray':'9,6'});

}
frame(WT,'wt');
legBox(124,668,146,50,'walen-stats-box');
legText(130,690,'slope = −0.043',17,'walen-slope-text');
legText(130,713,'<tspan font-style="italic" font-family="Liberation Serif, serif">r</tspan> = −0.255',17,'walen-r-text');

const H3={x:673,y:661,w:454,h:454,xlim:[-40,30],ylim:[-40,30]};
axes(H3,'h3',range(-40,30,10),range(-40,30,10).map(lab),range(-40,30,10),range(-40,30,10).map(lab),true);
path(H3,'h3|b-remaining-path',h3V2,h3V1,'#00f',2);
dots(H3,'h3|b-remaining-point',h3V2,h3V1,'#00f',3.3);
frame(H3,'h3');
legText(685,1093,'<tspan font-style="italic" font-family="Liberation Serif, serif">λ<tspan font-size="11" dy="4">1</tspan><tspan dy="-4">/λ</tspan><tspan font-size="11" dy="4">2</tspan></tspan><tspan dy="-4"> ≈ 4.48</tspan>',18,'h3-eigen-ratio');

const H4={x:1229,y:661,w:454,h:454,xlim:[-36.1,33.9],ylim:[-40,30]};
axes(H4,'h4',range(-30,30,10),range(-30,30,10).map(lab),range(-40,30,10),range(-40,30,10).map(lab),true);
path(H4,'h4|b-remaining-path',h4V3,h4V1,'#00f',2);
dots(H4,'h4|b-remaining-point',h4V3,h4V1,'#00f',3.3);
frame(H4,'h4');
legText(1261,1093,'<tspan font-style="italic" font-family="Liberation Serif, serif">λ<tspan font-size="11" dy="4">1</tspan><tspan dy="-4">/λ</tspan><tspan font-size="11" dy="4">3</tspan></tspan><tspan dy="-4"> ≈ 9.63</tspan>',18,'h4-eigen-ratio');

// ---------- TIME SERIES ----------
const tStart=-0.03, tEnd=76.97;
function timePanel(top,nm,ylim,yt,yl,series,zero){
  const p={x:117,y:top,w:1566,h:222,xlim:[tStart,tEnd],ylim:ylim};
  axes(p,nm,timeTickMinutes,timeTickLabels,yt,yl,false);
  if(zero){
    const z=mk('line',{x1:p.x,x2:p.x+p.w,y1:sy(p,0),y2:sy(p,0),stroke:'#000','stroke-width':1,'stroke-dasharray':'8,8'});
    
    
  }
  series.forEach(s=>{
    const xs=s.data.map((_,i)=>tStart+i);
    path(p,nm+'|'+s.name,xs,s.data,s.color,2);
  });
  frame(p,nm);
  return p;
}
timePanel(1305,'gse',[-5,4],range(-5,4,1),range(-5,4,1).map(lab),[{data:gseBx,color:'#f00',name:'gse-bx-line'},{data:gseBy,color:'#008000',name:'gse-by-line'},{data:gseBz,color:'#00f',name:'gse-bz-line'}],true);
legBox(1605,1312,71,72,'gse-legend');
legLine(1612,1634,1324,'#f00','gse-legend-bx-line'); legText(1641,1329,'Bx',14,'gse-legend-bx-label');
legLine(1612,1634,1347,'#008000','gse-legend-by-line'); legText(1641,1352,'By',14,'gse-legend-by-label');
legLine(1612,1634,1370,'#00f','gse-legend-bz-line'); legText(1641,1375,'Bz',14,'gse-legend-bz-label');

timePanel(1638,'fr',[-3,6],range(-3,6,1),range(-3,6,1).map(lab),[{data:frBt,color:'#000',name:'fr-btotal-line'},{data:frBz,color:'#00f',name:'fr-bz-line'},{data:frBx,color:'#f00',name:'fr-bx-line'},{data:frBy,color:'#008000',name:'fr-by-line'}],true);
legBox(1602,1646,74,94,'fr-legend');
legLine(1609,1631,1657,'#f00','fr-legend-bx-line'); legText(1638,1662,"Bx'",14,'fr-legend-bx-label');
legLine(1609,1631,1680,'#008000','fr-legend-by-line'); legText(1638,1685,"By'",14,'fr-legend-by-label');
legLine(1609,1631,1703,'#00f','fr-legend-bz-line'); legText(1638,1708,"Bz'",14,'fr-legend-bz-label');
legLine(1609,1631,1726,'#000','fr-legend-bt-line'); legText(1638,1731,'|B|',14,'fr-legend-bt-label');

timePanel(1972,'vsw',[-500,100],range(-500,100,100),range(-500,100,100).map(lab),[{data:vswVx,color:'#f00',name:'vx-line'},{data:vswVy,color:'#008000',name:'vy-line'},{data:vswVz,color:'#00f',name:'vz-line'}],false);
legBox(1605,1979,71,72,'vsw-legend');
legLine(1612,1634,1991,'#f00','vsw-legend-vx-line'); legText(1641,1996,'Vx',14,'vsw-legend-vx-label');
legLine(1612,1634,2014,'#008000','vsw-legend-vy-line'); legText(1641,2019,'Vy',14,'vsw-legend-vy-label');
legLine(1612,1634,2037,'#00f','vsw-legend-vz-line'); legText(1641,2042,'Vz',14,'vsw-legend-vz-label');

timePanel(2306,'beta',[0,5],range(0,5,1),range(0,5,1).map(lab),[{data:betaP,color:'#00f',name:'beta-p-line'}],false);
legBox(1607,2313,69,31,'beta-legend');
legLine(1614,1636,2328,'#00f','beta-legend-line');
legText(1645,2333,'<tspan font-style="italic" font-family="Liberation Serif, serif">β<tspan font-size="9" dy="3">p</tspan></tspan>',14,'beta-legend-label');

timePanel(2638,'np',[0,40],range(0,40,5),range(0,40,5).map(lab),[{data:densNp,color:'#00f',name:'np-line'}],false);

timePanel(2973,'tp',[0,0.5],[0,0.1,0.2,0.3,0.4,0.5],['0.0','0.1','0.2','0.3','0.4','0.5'],[{data:tempTp,color:'#00f',name:'tp-line'}],false);
legBox(124,2980,71,27,'tp-legend');
legLine(130,152,2993,'#00f','tp-legend-line');
legText(160,2998,'Tp',14,'tp-legend-label');
</script>
</body></html>
